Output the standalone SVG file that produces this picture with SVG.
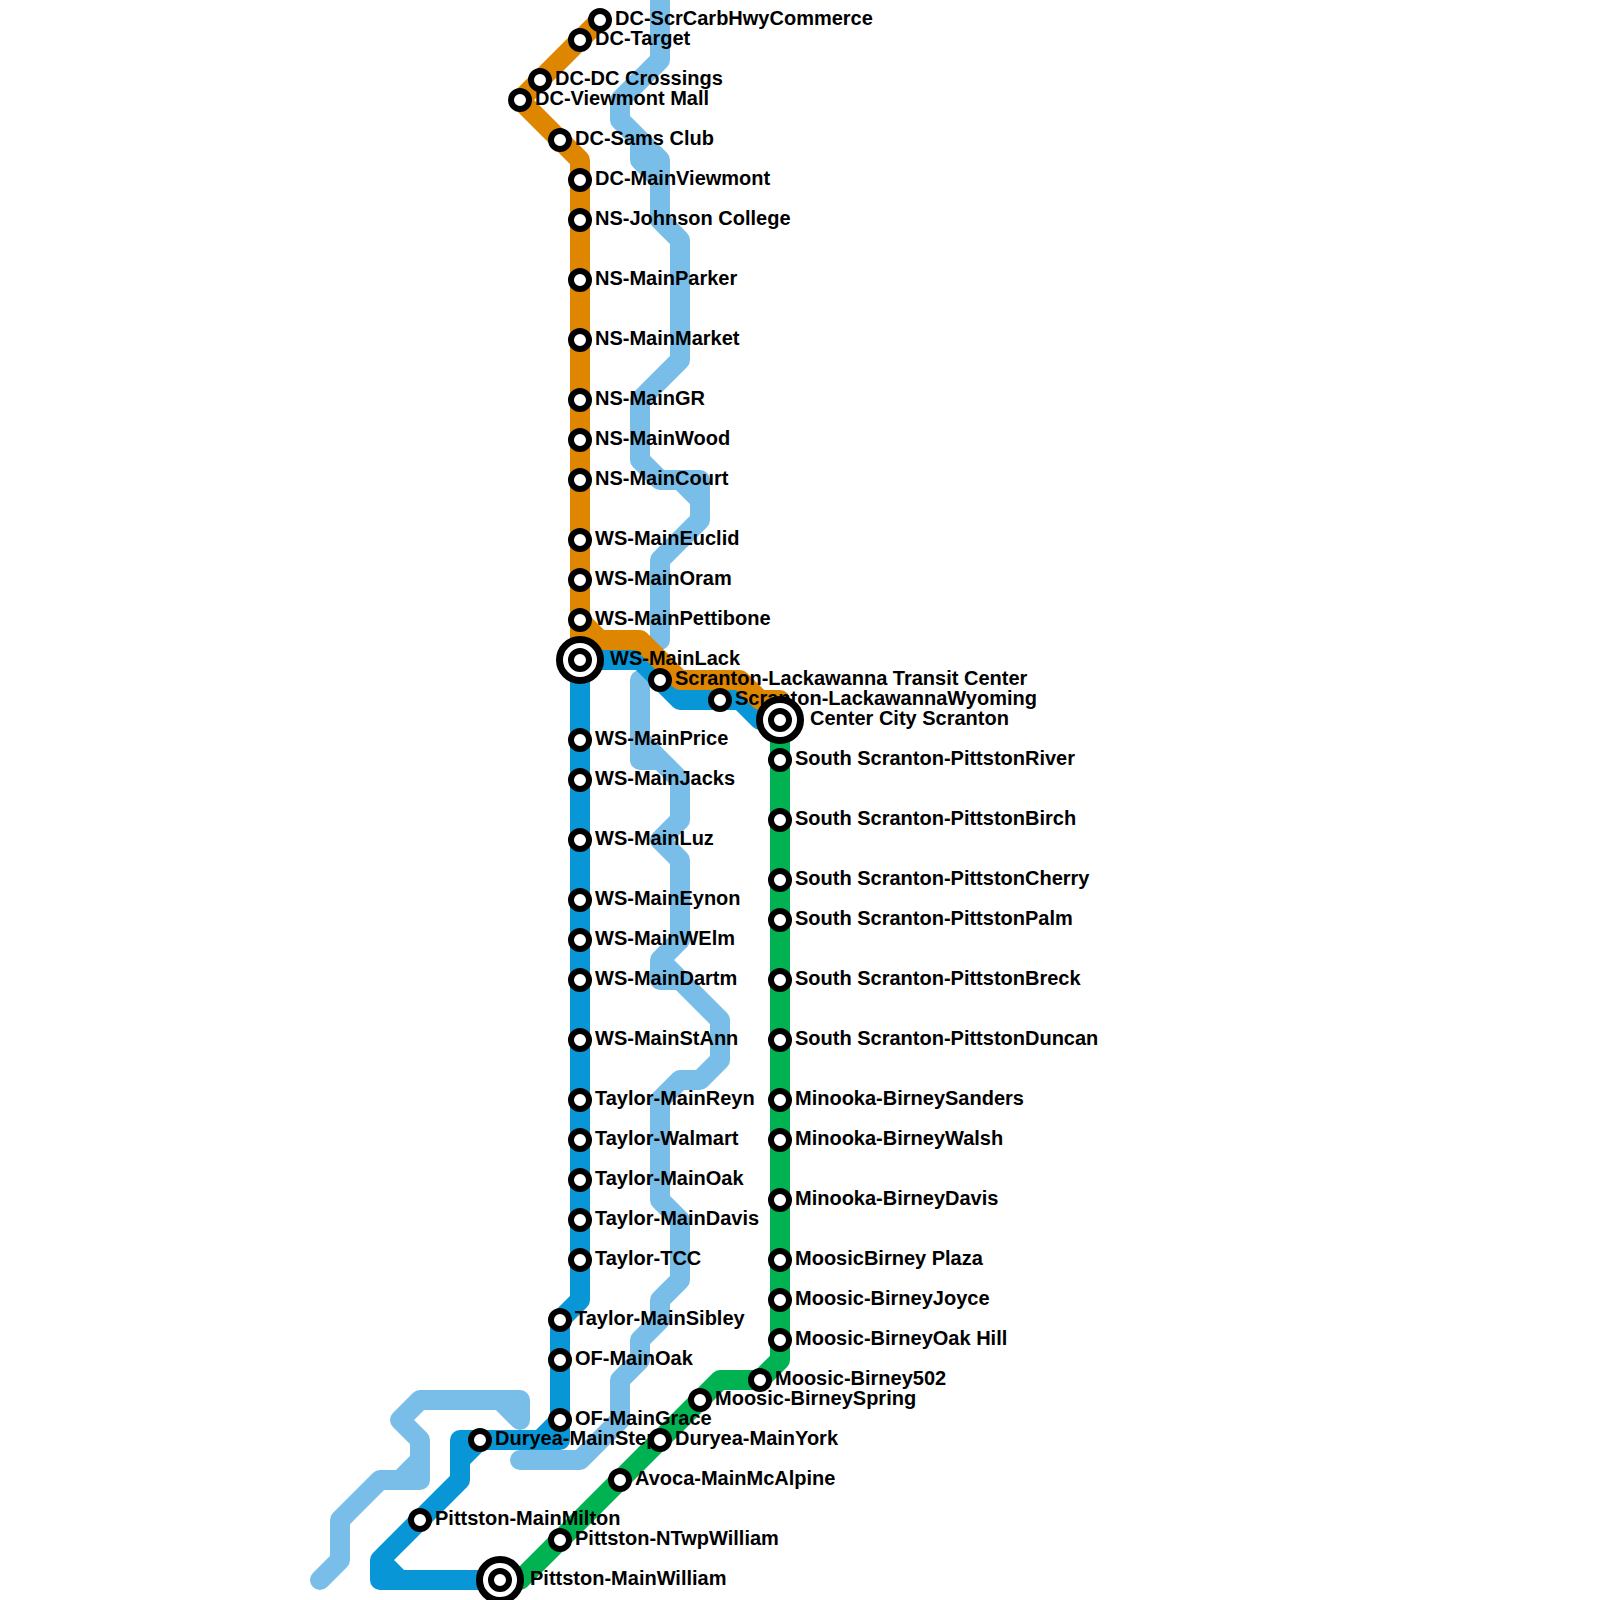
<svg xmlns="http://www.w3.org/2000/svg" width="1600" height="1600" viewBox="0 0 1600 1600">
<style>
.l{fill:none;stroke-width:20;stroke-linejoin:round;stroke-linecap:round}
.lb{stroke:#79bde9}.bl{stroke:#0896d7}.or{stroke:#df8600}.gr{stroke:#00b251}
.s{fill:#fff;stroke:#000;stroke-width:6}
.r{fill:#fff;stroke:#000;stroke-width:7}
text{font-family:"Liberation Sans",Arial,Helvetica,sans-serif;font-weight:700;font-size:20px;fill:#000}
</style>
<rect width="1600" height="1600" fill="#fff"/>
<g id="connectors">
<path class="l lb" d="M660 0V60L620 100V120L660 160V220L680 240V360L640 400V460L660 480H700V520L660 560V640M640 140V160L660 180V220M680 480L700 500"/>
<path class="l lb" d="M640 680V760H660L680 780V820L660 840L680 860V940L660 960V980H680L720 1020V1060L700 1080H680L660 1100V1200L680 1220V1280L660 1300V1320L640 1340V1360L620 1380V1420L580 1460H520M640 740L680 780M660 960L680 980"/>
<path class="l lb" d="M320 1580L340 1560V1520L380 1480H420V1440L400 1420L420 1400H520V1420L500 1400M400 1480L420 1460"/>
<path class="l bl" d="M780 720H760L740 700H680L640 660H580V1300L560 1320V1440H460V1480L380 1560V1580H500M560 1420L540 1440M480 1440L460 1460M380 1560L400 1580"/>
<path class="l or" d="M600 20L520 100L580 160V640H640L680 680H740L760 700H780V720M580 620L600 640"/>
<path class="l gr" d="M780 720V1360L760 1380H720L520 1580H500"/>
</g>
<g id="n-dc-scrcarb"><circle class="s" cx="600" cy="20" r="9"/><text x="615" y="25">DC-ScrCarbHwyCommerce</text></g>
<g id="n-dc-target"><circle class="s" cx="580" cy="40" r="9"/><text x="595" y="45">DC-Target</text></g>
<g id="n-dc-crossings"><circle class="s" cx="540" cy="80" r="9"/><text x="555" y="85">DC-DC Crossings</text></g>
<g id="n-dc-viewmont-mall"><circle class="s" cx="520" cy="100" r="9"/><text x="535" y="105">DC-Viewmont Mall</text></g>
<g id="n-dc-sams"><circle class="s" cx="560" cy="140" r="9"/><text x="575" y="145">DC-Sams Club</text></g>
<g id="n-dc-mainviewmont"><circle class="s" cx="580" cy="180" r="9"/><text x="595" y="185">DC-MainViewmont</text></g>
<g id="n-ns-johnson"><circle class="s" cx="580" cy="220" r="9"/><text x="595" y="225">NS-Johnson College</text></g>
<g id="n-ns-parker"><circle class="s" cx="580" cy="280" r="9"/><text x="595" y="285">NS-MainParker</text></g>
<g id="n-ns-market"><circle class="s" cx="580" cy="340" r="9"/><text x="595" y="345">NS-MainMarket</text></g>
<g id="n-ns-gr"><circle class="s" cx="580" cy="400" r="9"/><text x="595" y="405">NS-MainGR</text></g>
<g id="n-ns-wood"><circle class="s" cx="580" cy="440" r="9"/><text x="595" y="445">NS-MainWood</text></g>
<g id="n-ns-court"><circle class="s" cx="580" cy="480" r="9"/><text x="595" y="485">NS-MainCourt</text></g>
<g id="n-ws-euclid"><circle class="s" cx="580" cy="540" r="9"/><text x="595" y="545">WS-MainEuclid</text></g>
<g id="n-ws-oram"><circle class="s" cx="580" cy="580" r="9"/><text x="595" y="585">WS-MainOram</text></g>
<g id="n-ws-pettibone"><circle class="s" cx="580" cy="620" r="9"/><text x="595" y="625">WS-MainPettibone</text></g>
<g id="n-ws-lack"><circle class="r" cx="580" cy="660" r="20.5"/><circle class="s" cx="580" cy="660" r="9"/><text x="610" y="665">WS-MainLack</text></g>
<g id="n-slt"><circle class="s" cx="660" cy="680" r="9"/><text x="675" y="685">Scranton-Lackawanna Transit Center</text></g>
<g id="n-slw"><circle class="s" cx="720" cy="700" r="9"/><text x="735" y="705">Scranton-LackawannaWyoming</text></g>
<g id="n-center"><circle class="r" cx="780" cy="720" r="20.5"/><circle class="s" cx="780" cy="720" r="9"/><text x="810" y="725">Center City Scranton</text></g>
<g id="n-ws-price"><circle class="s" cx="580" cy="740" r="9"/><text x="595" y="745">WS-MainPrice</text></g>
<g id="n-ws-jacks"><circle class="s" cx="580" cy="780" r="9"/><text x="595" y="785">WS-MainJacks</text></g>
<g id="n-ws-luz"><circle class="s" cx="580" cy="840" r="9"/><text x="595" y="845">WS-MainLuz</text></g>
<g id="n-ws-eynon"><circle class="s" cx="580" cy="900" r="9"/><text x="595" y="905">WS-MainEynon</text></g>
<g id="n-ws-welm"><circle class="s" cx="580" cy="940" r="9"/><text x="595" y="945">WS-MainWElm</text></g>
<g id="n-ws-dartm"><circle class="s" cx="580" cy="980" r="9"/><text x="595" y="985">WS-MainDartm</text></g>
<g id="n-ws-stann"><circle class="s" cx="580" cy="1040" r="9"/><text x="595" y="1045">WS-MainStAnn</text></g>
<g id="n-t-reyn"><circle class="s" cx="580" cy="1100" r="9"/><text x="595" y="1105">Taylor-MainReyn</text></g>
<g id="n-t-walmart"><circle class="s" cx="580" cy="1140" r="9"/><text x="595" y="1145">Taylor-Walmart</text></g>
<g id="n-t-oak"><circle class="s" cx="580" cy="1180" r="9"/><text x="595" y="1185">Taylor-MainOak</text></g>
<g id="n-t-davis"><circle class="s" cx="580" cy="1220" r="9"/><text x="595" y="1225">Taylor-MainDavis</text></g>
<g id="n-t-tcc"><circle class="s" cx="580" cy="1260" r="9"/><text x="595" y="1265">Taylor-TCC</text></g>
<g id="n-t-sibley"><circle class="s" cx="560" cy="1320" r="9"/><text x="575" y="1325">Taylor-MainSibley</text></g>
<g id="n-of-oak"><circle class="s" cx="560" cy="1360" r="9"/><text x="575" y="1365">OF-MainOak</text></g>
<g id="n-of-grace"><circle class="s" cx="560" cy="1420" r="9"/><text x="575" y="1425">OF-MainGrace</text></g>
<g id="n-d-step"><circle class="s" cx="480" cy="1440" r="9"/><text x="495" y="1445">Duryea-MainStep</text></g>
<g id="n-p-milton"><circle class="s" cx="420" cy="1520" r="9"/><text x="435" y="1525">Pittston-MainMilton</text></g>
<g id="n-p-william"><circle class="r" cx="500" cy="1580" r="20.5"/><circle class="s" cx="500" cy="1580" r="9"/><text x="530" y="1585">Pittston-MainWilliam</text></g>
<g id="n-p-ntwp"><circle class="s" cx="560" cy="1540" r="9"/><text x="575" y="1545">Pittston-NTwpWilliam</text></g>
<g id="n-avoca"><circle class="s" cx="620" cy="1480" r="9"/><text x="635" y="1485">Avoca-MainMcAlpine</text></g>
<g id="n-d-york"><circle class="s" cx="660" cy="1440" r="9"/><text x="675" y="1445">Duryea-MainYork</text></g>
<g id="n-m-spring"><circle class="s" cx="700" cy="1400" r="9"/><text x="715" y="1405">Moosic-BirneySpring</text></g>
<g id="n-m-502"><circle class="s" cx="760" cy="1380" r="9"/><text x="775" y="1385">Moosic-Birney502</text></g>
<g id="n-m-oakhill"><circle class="s" cx="780" cy="1340" r="9"/><text x="795" y="1345">Moosic-BirneyOak Hill</text></g>
<g id="n-m-joyce"><circle class="s" cx="780" cy="1300" r="9"/><text x="795" y="1305">Moosic-BirneyJoyce</text></g>
<g id="n-m-plaza"><circle class="s" cx="780" cy="1260" r="9"/><text x="795" y="1265">MoosicBirney Plaza</text></g>
<g id="n-mi-davis"><circle class="s" cx="780" cy="1200" r="9"/><text x="795" y="1205">Minooka-BirneyDavis</text></g>
<g id="n-mi-walsh"><circle class="s" cx="780" cy="1140" r="9"/><text x="795" y="1145">Minooka-BirneyWalsh</text></g>
<g id="n-mi-sanders"><circle class="s" cx="780" cy="1100" r="9"/><text x="795" y="1105">Minooka-BirneySanders</text></g>
<g id="n-ss-duncan"><circle class="s" cx="780" cy="1040" r="9"/><text x="795" y="1045">South Scranton-PittstonDuncan</text></g>
<g id="n-ss-breck"><circle class="s" cx="780" cy="980" r="9"/><text x="795" y="985">South Scranton-PittstonBreck</text></g>
<g id="n-ss-palm"><circle class="s" cx="780" cy="920" r="9"/><text x="795" y="925">South Scranton-PittstonPalm</text></g>
<g id="n-ss-cherry"><circle class="s" cx="780" cy="880" r="9"/><text x="795" y="885">South Scranton-PittstonCherry</text></g>
<g id="n-ss-birch"><circle class="s" cx="780" cy="820" r="9"/><text x="795" y="825">South Scranton-PittstonBirch</text></g>
<g id="n-ss-river"><circle class="s" cx="780" cy="760" r="9"/><text x="795" y="765">South Scranton-PittstonRiver</text></g>
</svg>
